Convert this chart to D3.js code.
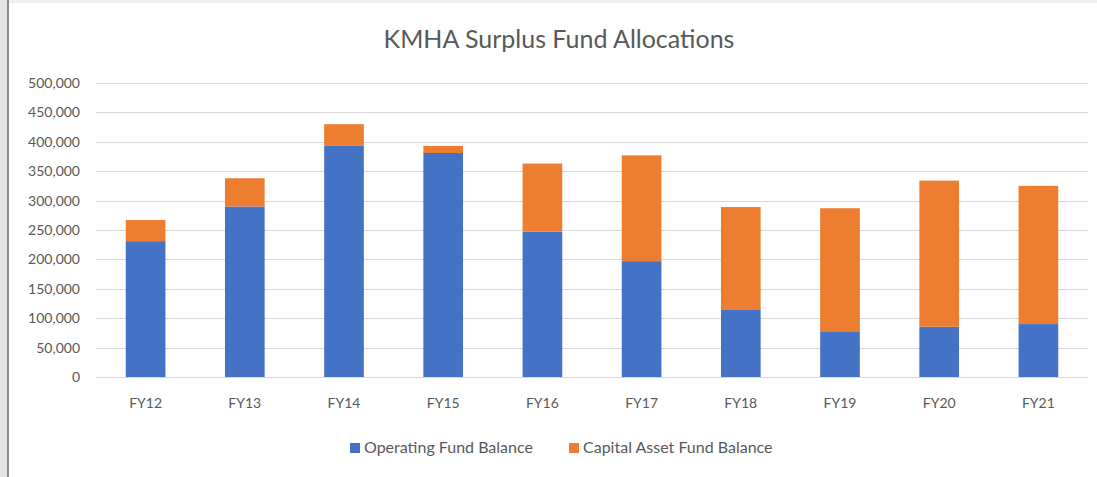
<!DOCTYPE html>
<html lang="en">
<head>
<meta charset="utf-8">
<title>KMHA Surplus Fund Allocations</title>
<script src="https://cdn.jsdelivr.net/npm/d3@7"></script>
<style>
  html, body { margin: 0; padding: 0; background: #fff; }
  svg { display: block; }
</style>
</head>
<body>
<script>

// chart data
var years = ["FY12", "FY13", "FY14", "FY15", "FY16", "FY17", "FY18", "FY19", "FY20", "FY21"];
var operating = [231000, 290000, 393000, 381000, 247000, 197000, 114000, 76500, 85500, 90000];
var totals = [267000, 338000, 430000, 393000, 363000, 377000, 289000, 287000, 334000, 325000];
var capital = totals.map(function(t, i) { return t - operating[i]; });
var seriesNames = ["Operating Fund Balance", "Capital Asset Fund Balance"];
var yTicks = [0, 50000, 100000, 150000, 200000, 250000, 300000, 350000, 400000, 450000, 500000];

var W = 1097, H = 477;
var colors = ["#4472C4", "#ED7D31"];
var textCol = "#595959";
var fontFam = "Lato, 'Open Sans', sans-serif";

var svg = d3.select("body").append("svg")
    .attr("width", W)
    .attr("height", H);

// the grey window frame around the screenshot
svg.append("rect").attr("width", W).attr("height", H).attr("fill", "#fff");
svg.append("rect").attr("width", W).attr("height", 3).attr("fill", "#efefef");
svg.append("rect").attr("width", 7).attr("height", H).attr("fill", "#e6e6e6");
svg.append("rect").attr("x", 7).attr("width", 2).attr("height", H).attr("fill", "#8a8a8a");

var x = d3.scaleBand()
    .domain(years)
    .range([96, 1088])
    .paddingInner(0.6)
    .paddingOuter(0.3);

var y = d3.scaleLinear()
    .domain([0, 500000])
    .range([377, 83]);

// gridlines
svg.append("g")
  .selectAll("line")
  .data(yTicks)
  .enter()
  .append("line")
    .attr("x1", 96)
    .attr("x2", 1088)
    .attr("y1", function(d) { return Math.round(y(d)) + 0.5; })
    .attr("y2", function(d) { return Math.round(y(d)) + 0.5; })
    .attr("stroke", "#d9d9d9")
    .attr("stroke-width", 1);

// y labels
var yAxis = d3.axisLeft(y)
    .tickValues(yTicks)
    .tickSize(0)
    .tickPadding(0)
    .tickFormat(d3.format(","));

var yg = svg.append("g")
    .attr("transform", "translate(80,0)")
    .call(yAxis);
yg.select(".domain").remove();
yg.selectAll("text")
    .attr("fill", textCol)
    .style("font-family", fontFam)
    .style("font-size", "14px");

// stacked bars
var rows = years.map(function(yr, i) {
  return { year: yr, op: operating[i], cap: capital[i] };
});
var stacked = d3.stack().keys(["op", "cap"])(rows);

svg.append("g")
  .selectAll("g")
  .data(stacked)
  .enter()
  .append("g")
    .attr("fill", function(d, i) { return colors[i]; })
  .selectAll("rect")
  .data(function(d) { return d; })
  .enter()
  .append("rect")
    .attr("x", function(d) { return x(d.data.year); })
    .attr("width", x.bandwidth())
    .attr("y", function(d) { return y(d[1]); })
    .attr("height", function(d) { return y(d[0]) - y(d[1]); });

// x labels
var xAxis = d3.axisBottom(x).tickSize(0).tickPadding(0);
var xg = svg.append("g")
    .attr("transform", "translate(0,398)")
    .call(xAxis);
xg.select(".domain").remove();
xg.selectAll("text")
    .attr("fill", textCol)
    .style("font-family", fontFam)
    .style("font-size", "14px");

// title
svg.append("text")
    .attr("x", 559)
    .attr("y", 48)
    .attr("text-anchor", "middle")
    .attr("fill", textCol)
    .style("font-family", fontFam)
    .style("font-size", "25px")
    .text("KMHA Surplus Fund Allocations");

// legend
var legendX = [350, 569];
var legend = svg.append("g")
  .selectAll("g")
  .data(seriesNames)
  .enter()
  .append("g")
    .attr("transform", function(d, i) { return "translate(" + legendX[i] + ",443)"; });

legend.append("rect")
    .attr("width", 10)
    .attr("height", 10)
    .attr("fill", function(d, i) { return colors[i]; });

legend.append("text")
    .attr("x", 14)
    .attr("y", 10)
    .attr("fill", textCol)
    .style("font-family", fontFam)
    .style("font-size", "16px")
    .text(function(d) { return d; });

</script>
</body>
</html>
